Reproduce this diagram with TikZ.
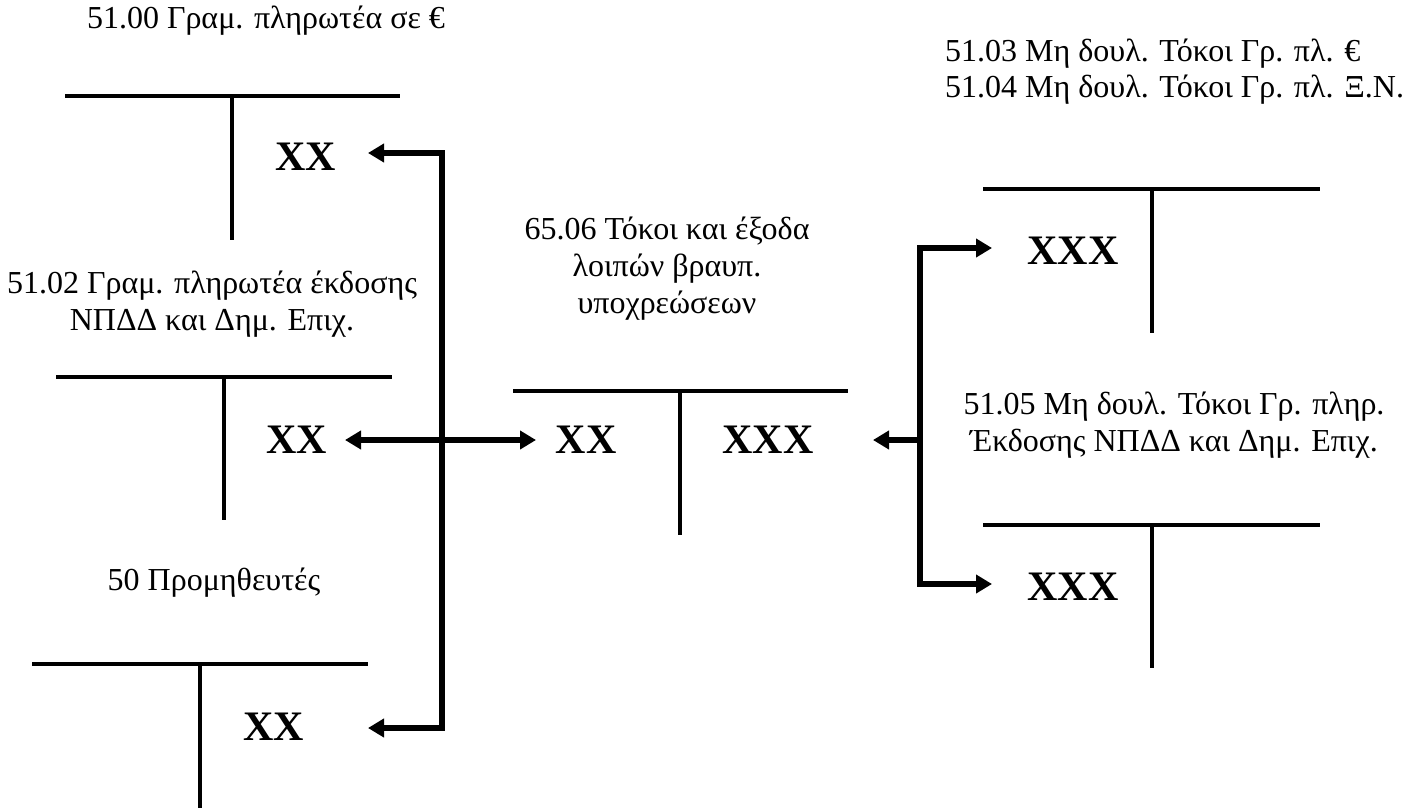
\documentclass[tikz,border=0pt]{standalone}
\usepackage{fontspec}
\setmainfont{Liberation Serif}
\usetikzlibrary{arrows.meta}
\begin{document}
\begin{tikzpicture}[x=1pt,y=-1pt,
  tline/.style={line width=4pt},
  flow/.style={line width=6pt,line join=miter},
  tipend/.style={-{Triangle[length=16pt,width=18pt]}},
  tipboth/.style={{Triangle[length=16pt,width=18pt]}-{Triangle[length=16pt,width=18pt]}},
  lbl/.style={font=\fontsize{32}{37}\selectfont,align=center,inner sep=0pt},
  lbll/.style={font=\fontsize{32}{36}\selectfont,align=left,inner sep=0pt},
  amt/.style={font=\fontsize{42}{42}\selectfont\bfseries,inner sep=0pt}]
\useasboundingbox (0,0) rectangle (1410,809);

% ---- labels
\node[lbl] (t5100) at (266,21) {51.00 Γραμ. πληρωτέα σε €};
\node[lbl] (t5102) at (212,304) {51.02 Γραμ. πληρωτέα έκδοσης\\ΝΠΔΔ και Δημ. Επιχ.};
\node[lbl] (t50) at (214,583) {50 Προμηθευτές};
\node[lbl] (t6506) at (667,269) {65.06 Τόκοι και έξοδα\\λοιπών βραυπ.\\υποχρεώσεων};
\node[lbll,anchor=west] (t5103) at (945,72) {51.03 Μη δουλ. Τόκοι Γρ. πλ. €\\51.04 Μη δουλ. Τόκοι Γρ. πλ. Ξ.Ν.};
\node[lbl] (t5105) at (1174,425) {51.05 Μη δουλ. Τόκοι Γρ. πληρ.\\Έκδοσης ΝΠΔΔ και Δημ. Επιχ.};

% ---- T accounts
\draw[tline] (65,96) -- (400,96) (232,96) -- (232,240);
\draw[tline] (56,377) -- (392,377) (224,377) -- (224,520);
\draw[tline] (32,664) -- (368,664) (200,664) -- (200,808);
\draw[tline] (513,391) -- (848,391) (680,391) -- (680,535);
\draw[tline] (983,189) -- (1320,189) (1152,189) -- (1152,333);
\draw[tline] (983,525) -- (1320,525) (1152,525) -- (1152,668);

% ---- amounts
\node[amt] (a5100) at (306,157) {XX};
\node[amt] (a5102) at (297,440) {XX};
\node[amt] (a50) at (274,727) {XX};
\node[amt] (d6506) at (586,440) {XX};
\node[amt] (c6506) at (768,440) {XXX};
\node[amt] (a5103) at (1073,251) {XXX};
\node[amt] (a5105) at (1073,587) {XXX};

% ---- connector points
\coordinate (p1) at (368,153);
\coordinate (j1) at (442,153);
\coordinate (j3) at (442,728);
\coordinate (p3) at (368,728);
\coordinate (p2l) at (345,440);
\coordinate (p2r) at (536,440);
\coordinate (q1) at (992,248);
\coordinate (k1) at (920,248);
\coordinate (k3) at (920,584);
\coordinate (q3) at (992,584);
\coordinate (k2) at (920,440);
\coordinate (q2) at (873,440);

\draw[flow,tipboth] (p1) -- (j1) -- (j3) -- (p3);
\draw[flow,tipboth] (p2l) -- (p2r);
\draw[flow,tipboth] (q1) -- (k1) -- (k3) -- (q3);
\draw[flow,tipend] (k2) -- (q2);
\end{tikzpicture}
\end{document}
